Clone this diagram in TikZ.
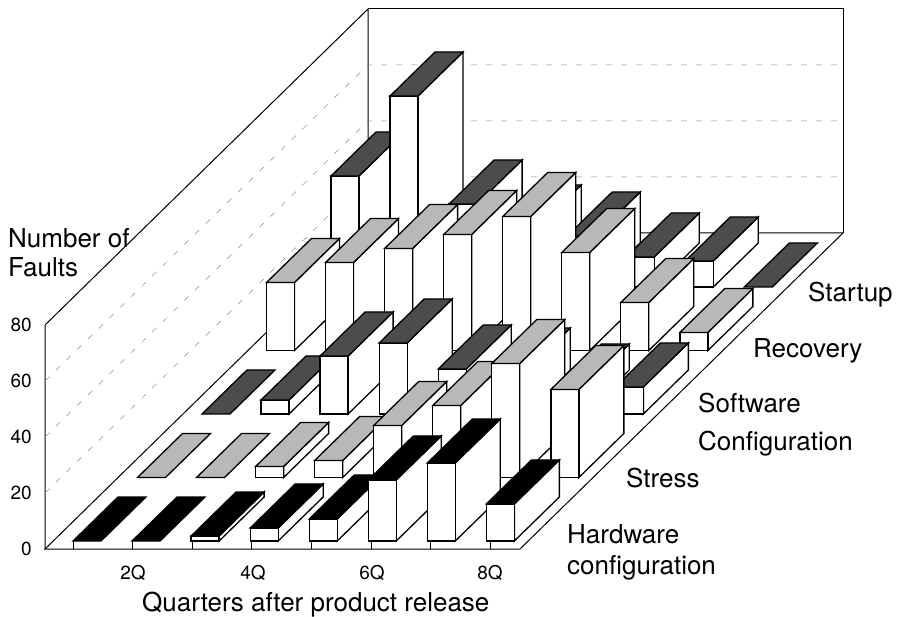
\documentclass[tikz,border=0pt]{standalone}
\usepackage{fontspec}
\setmainfont{TeX Gyre Heros}
\begin{document}
\begin{tikzpicture}[x=1pt,y=-1pt,
  wall/.style={draw=black,line width=1pt,line join=miter},
  gridline/.style={draw=black!45,line width=0.5pt,dash pattern=on 6pt off 9pt},
  face/.style={fill=white,draw=black,line width=1.3pt,line join=miter},
  tickmark/.style={draw=black,line width=0.8pt},
  bigtext/.style={inner sep=0pt,font=\fontsize{26}{30}\selectfont},
  smalltext/.style={inner sep=0pt,font=\fontsize{19}{22}\selectfont}]
\definecolor{topblack}{gray}{0}
\definecolor{toplight}{gray}{0.72}
\definecolor{topdark}{gray}{0.3}
\useasboundingbox (0,0) rectangle (900,617);
\fill[white] (0,0) rectangle (900,617);

% side wall and back wall
\draw[wall] (45,549) -- (45,325) -- (368,9) -- (368,233);
\draw[wall] (368,9) -- (843,9) -- (843,233);
% gridlines at 20, 40, 60
\foreach \k in {1,2,3}{
  \draw[gridline] (45,549-56*\k) -- (368,233-56*\k) -- (843,233-56*\k);
}
% floor
\draw[wall] (45,549) -- (520,549) -- (843,233) -- (368,233) -- cycle;
% category ticks
\foreach \k in {0,...,7}{
  \draw[tickmark] (73+59.6*\k,549) -- (73+59.6*\k,541);
}

% bars: rows from back (5) to front (1), left to right inside a row
\foreach \r/\col/\hs in {
   5/topdark/{111,191,83,58,51,30,26,0},
   4/toplight/{68,88,102,116,134,98,48,18},
   3/topdark/{0,14,58,71,45,42,26,27},
   2/toplight/{0,0,11,17,52,72,114,88},
   1/topblack/{0,0,5,13,22,61,78,37}}{
  \foreach \h [count=\q] in \hs {
    \pgfmathsetmacro{\X}{73+59.05*(\q-1)+64.5*(\r-1)}
    \pgfmathsetmacro{\Y}{541-63.5*(\r-1)}
    \ifnum\h>0
      \draw[face] (\X+28,\Y) -- (\X+73,\Y-44) -- (\X+73,\Y-\h-44) -- (\X+28,\Y-\h) -- cycle;
      \draw[face] (\X,\Y) rectangle (\X+28,\Y-\h);
    \fi
    \draw[face,fill=\col] (\X,\Y-\h) -- (\X+28,\Y-\h) -- (\X+73,\Y-\h-44) -- (\X+45,\Y-\h-44) -- cycle;
  }
}

% value axis labels
\node[smalltext,anchor=east] (v0)  at (32,549) {0};
\node[smalltext,anchor=east] (v20) at (32,493) {20};
\node[smalltext,anchor=east] (v40) at (32,437) {40};
\node[smalltext,anchor=east] (v60) at (32,381) {60};
\node[smalltext,anchor=east] (v80) at (32,325) {80};
\node[bigtext,anchor=base west] (ytitle1) at (8,248) {Number of};
\node[bigtext,anchor=base west] (ytitle2) at (8,277) {Faults};

% category labels
\node[smalltext] (q2) at (133,573) {2Q};
\node[smalltext] (q4) at (253,573) {4Q};
\node[smalltext] (q6) at (372,573) {6Q};
\node[smalltext] (q8) at (490,573) {8Q};
\node[bigtext,anchor=base west] (xtitle) at (142,611) {Quarters after product release};

% series labels
\node[bigtext,anchor=base west] (s5) at (808,302) {Startup};
\node[bigtext,anchor=base west] (s4) at (753,358) {Recovery};
\node[bigtext,anchor=base west] (s3a) at (698,413) {Software};
\node[bigtext,anchor=base west] (s3b) at (698,451) {Configuration};
\node[bigtext,anchor=base west] (s2) at (626,488) {Stress};
\node[bigtext,anchor=base west] (s1a) at (567,543) {Hardware};
\node[bigtext,anchor=base west] (s1b) at (567,574) {configuration};
\end{tikzpicture}
\end{document}
